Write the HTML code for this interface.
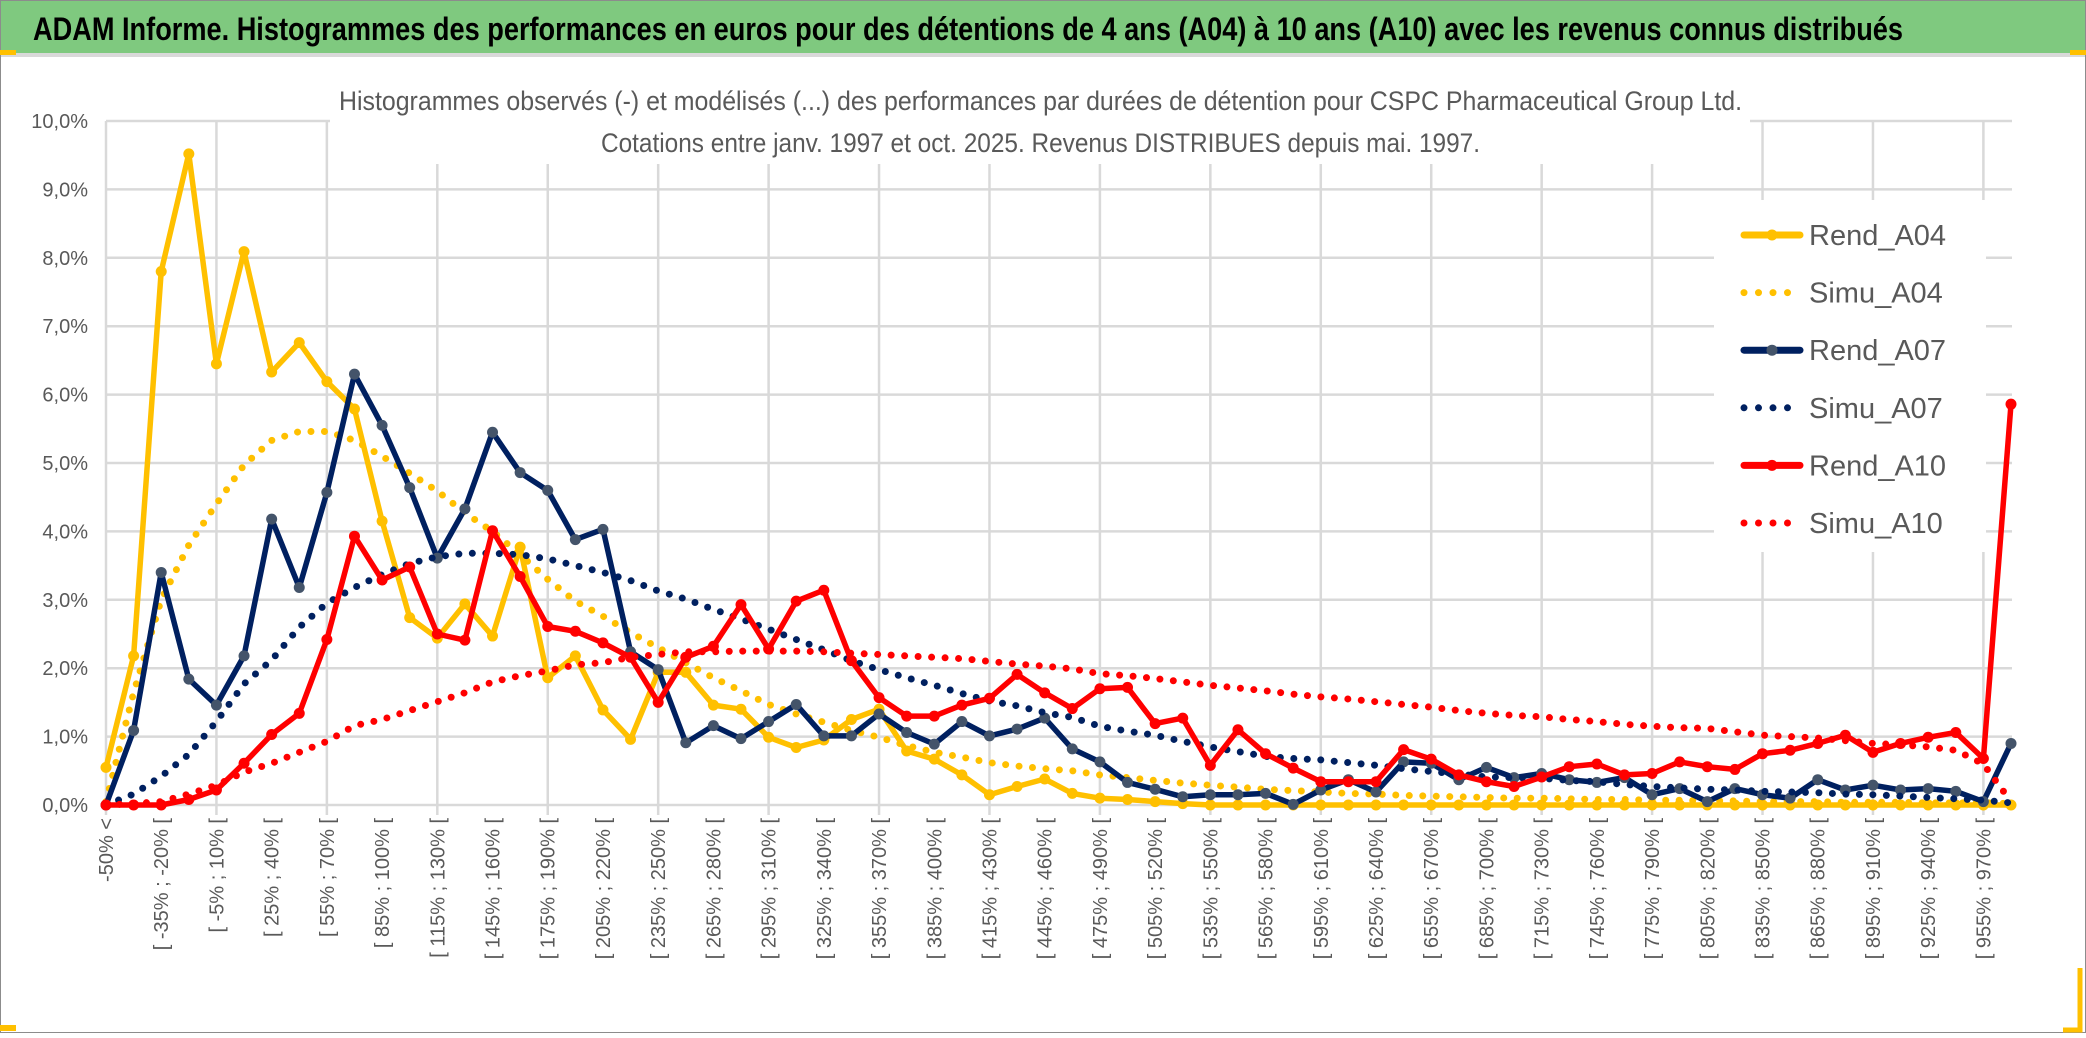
<!DOCTYPE html>
<html><head><meta charset="utf-8">
<style>
html,body{margin:0;padding:0;background:#fff;}
body{width:2086px;height:1033px;overflow:hidden;}
svg text{font-family:"Liberation Sans Narrow","Liberation Sans",sans-serif;}
</style></head>
<body>
<svg id="chart" width="2086" height="1033" viewBox="0 0 2086 1033" xmlns="http://www.w3.org/2000/svg">
  <rect x="0" y="0" width="2086" height="1033" fill="#fff"/>
  <rect x="0.5" y="0.5" width="2085" height="1032" fill="none" stroke="#8c8c8c" stroke-width="1"/>
  <rect x="1" y="1" width="2084" height="52" fill="#7fc97f"/>
  <rect x="1" y="53" width="2084" height="4" fill="#d9d9d9"/>
  <rect x="0" y="50" width="16" height="5" fill="#ffc000"/>
  <rect x="2070" y="50" width="16" height="5" fill="#ffc000"/>
  <text x="33" y="40" font-size="32" font-weight="bold" fill="#000" textLength="1870" lengthAdjust="spacingAndGlyphs">ADAM Informe. Histogrammes des performances en euros pour des détentions de 4 ans (A04) à 10 ans (A10) avec les revenus connus distribués</text>
  <g id="grid"></g>
  <rect x="330" y="85" width="1420" height="79" fill="#fff"/>
  <text x="339" y="110" font-size="27" fill="#595959" textLength="1403" lengthAdjust="spacingAndGlyphs">Histogrammes observés (-) et modélisés (...) des performances par durées de détention pour CSPC Pharmaceutical Group Ltd.</text>
  <text x="601" y="152" font-size="27" fill="#595959" textLength="879" lengthAdjust="spacingAndGlyphs">Cotations entre janv. 1997 et oct. 2025. Revenus DISTRIBUES depuis mai. 1997.</text>
  <g id="yaxis"></g>
  <g id="xaxis"></g>
  <g id="series"></g>
  <g id="legend"></g>
  <rect x="2066" y="968" width="16" height="62" fill="none"/>
  <path d="M2080 968 V1030 H2063" fill="none" stroke="#ffc000" stroke-width="5"/>
  <rect x="0" y="1025" width="16" height="6" fill="#ffc000"/>
</svg>
<script>
const rendA04 = [0.55,2.18,7.80,9.52,6.45,8.09,6.33,6.76,6.19,5.79,4.15,2.74,2.44,2.94,2.47,3.77,1.86,2.18,1.39,0.96,1.94,1.94,1.46,1.40,0.99,0.84,0.95,1.25,1.40,0.79,0.67,0.44,0.15,0.27,0.38,0.17,0.10,0.08,0.05,0.02,0,0,0,0,0,0,0,0,0,0,0,0,0,0,0,0,0,0,0,0,0,0,0,0,0,0,0,0,0,0];
const simuA04 = [0.05,1.64,3.0,3.8,4.4,4.97,5.33,5.46,5.46,5.33,5.10,4.85,4.59,4.27,4.00,3.66,3.30,2.98,2.76,2.52,2.30,2.08,1.86,1.67,1.47,1.33,1.21,1.09,0.99,0.87,0.77,0.70,0.62,0.57,0.53,0.50,0.44,0.40,0.36,0.32,0.29,0.26,0.23,0.21,0.19,0.17,0.16,0.14,0.13,0.12,0.11,0.10,0.10,0.09,0.08,0.08,0.07,0.07,0.06,0.06,0.05,0.05,0.05,0.04,0.04,0.04,0.03,0.03,0.03,0.02];
const rendA07 = [0,1.09,3.40,1.84,1.46,2.18,4.18,3.18,4.57,6.30,5.55,4.64,3.61,4.33,5.45,4.86,4.60,3.88,4.03,2.24,1.98,0.91,1.16,0.97,1.22,1.47,1.01,1.01,1.33,1.06,0.89,1.22,1.01,1.11,1.27,0.82,0.63,0.33,0.23,0.12,0.15,0.15,0.17,0.01,0.22,0.37,0.19,0.63,0.61,0.37,0.55,0.40,0.46,0.37,0.33,0.40,0.15,0.24,0.05,0.24,0.15,0.10,0.37,0.22,0.29,0.22,0.24,0.20,0.05,0.90];
const simuA07 = [0,0.16,0.42,0.74,1.22,1.77,2.12,2.60,2.95,3.18,3.37,3.53,3.63,3.68,3.68,3.66,3.60,3.50,3.40,3.28,3.13,3.01,2.86,2.72,2.57,2.42,2.27,2.11,1.98,1.86,1.75,1.63,1.52,1.45,1.35,1.28,1.15,1.08,1.02,0.93,0.85,0.78,0.71,0.68,0.66,0.62,0.58,0.53,0.49,0.45,0.41,0.40,0.39,0.36,0.34,0.30,0.27,0.25,0.23,0.22,0.20,0.19,0.18,0.16,0.15,0.13,0.11,0.09,0.07,0.03];
const rendA10 = [0,0,0,0.08,0.22,0.61,1.03,1.34,2.42,3.93,3.29,3.48,2.50,2.41,4.01,3.34,2.61,2.54,2.37,2.16,1.50,2.16,2.32,2.93,2.28,2.98,3.14,2.11,1.57,1.30,1.30,1.46,1.56,1.91,1.64,1.41,1.70,1.72,1.19,1.27,0.58,1.10,0.75,0.54,0.34,0.34,0.34,0.81,0.67,0.44,0.34,0.27,0.41,0.56,0.60,0.44,0.46,0.63,0.56,0.52,0.75,0.80,0.90,1.02,0.77,0.90,0.99,1.06,0.68,5.86];
const simuA10 = [0,0.02,0.05,0.16,0.29,0.48,0.61,0.77,0.93,1.16,1.25,1.38,1.51,1.64,1.80,1.89,1.96,2.05,2.08,2.16,2.20,2.24,2.24,2.25,2.25,2.25,2.24,2.22,2.20,2.18,2.16,2.14,2.10,2.06,2.03,1.99,1.92,1.89,1.85,1.80,1.75,1.71,1.67,1.62,1.58,1.55,1.51,1.47,1.43,1.38,1.34,1.31,1.29,1.25,1.22,1.18,1.15,1.13,1.12,1.07,1.02,1.00,0.98,0.94,0.90,0.88,0.85,0.80,0.60,0.05];
const yTicks = [0,1,2,3,4,5,6,7,8,9,10];
const yTickLabels = ["0,0%","1,0%","2,0%","3,0%","4,0%","5,0%","6,0%","7,0%","8,0%","9,0%","10,0%"];
const categories = (function(){
  const c = ["-50% <"];
  for (let lo = -50; lo < 970; lo += 15) c.push("[ " + lo + "% ; " + (lo + 15) + "% [");
  c.push(">= 970%");
  return c;
})();

const NS = "http://www.w3.org/2000/svg";
const X0 = 106, X1 = 2011, Y0 = 805, Y10 = 121;
const n = rendA04.length;
function xPos(i){ return X0 + (X1 - X0) * i / (n - 1); }
function yPos(v){ return Y0 - (Y0 - Y10) * v / 10; }
function mk(tag, attrs, parent){
  const e = document.createElementNS(NS, tag);
  for (const k in attrs) e.setAttribute(k, attrs[k]);
  parent.appendChild(e);
  return e;
}

const grid = document.getElementById('grid');
yTicks.forEach(function(t){
  const l = mk('line', {x1: X0, x2: 2012, y1: yPos(t), y2: yPos(t), stroke: '#d9d9d9', 'stroke-width': 2.5}, grid);
  
  
});
for (let i = 0; i < n; i += 4) {
  const l = mk('line', {x1: xPos(i), x2: xPos(i), y1: Y10, y2: Y0 + 10, stroke: '#d9d9d9', 'stroke-width': 2.5}, grid);
  
  
}

const yaxis = document.getElementById('yaxis');
yTicks.forEach(function(t, k){
  const tx = mk('text', {x: 88, y: yPos(t) + 7, 'font-size': 20, fill: '#595959', 'text-anchor': 'end'}, yaxis);
  tx.textContent = yTickLabels[k];
  
  
});

const xaxis = document.getElementById('xaxis');
for (let i = 0; i < n; i += 2) {
  const x = xPos(i) + 7;
  const tx = mk('text', {x: 0, y: 0, 'font-size': 20, fill: '#595959', 'text-anchor': 'end', transform: 'translate(' + x + ',818) rotate(-90)', 'font-family': '"Liberation Sans",sans-serif'}, xaxis);
  tx.textContent = categories[i];
  
  
}

const seriesG = document.getElementById('series');
function pts(arr){ return arr.map(function(v, i){ return xPos(i).toFixed(1) + ',' + yPos(v).toFixed(1); }).join(' '); }
function drawRend(arr, color, markerFill, name){
  const g = mk('g', {}, seriesG);
  
  
  mk('polyline', {points: pts(arr), fill: 'none', stroke: color, 'stroke-width': 5.5, 'stroke-linejoin': 'round'}, g);
  arr.forEach(function(v, i){
    const c = mk('circle', {cx: xPos(i), cy: yPos(v), r: 5.5, fill: markerFill}, g);
    
    
  });
}
function drawSimu(arr, color, name){
  const p = mk('polyline', {points: pts(arr), fill: 'none', stroke: color, 'stroke-width': 7, 'stroke-linecap': 'round', 'stroke-dasharray': '0 13.5'}, seriesG);
  
  
}
drawRend(rendA04, '#ffc000', '#ffc000', 'rend-a04-line');
drawSimu(simuA04, '#ffc000', 'simu-a04-line');
drawRend(rendA07, '#002060', '#44546a', 'rend-a07-line');
drawSimu(simuA07, '#002060', 'simu-a07-line');
drawRend(rendA10, '#ff0000', '#ff0000', 'rend-a10-line');
drawSimu(simuA10, '#ff0000', 'simu-a10-line');

const legend = document.getElementById('legend');
mk('rect', {x: 1714, y: 200, width: 272, height: 352, fill: '#fff'}, legend);
const legendNames = ["Rend_A04","Simu_A04","Rend_A07","Simu_A07","Rend_A10","Simu_A10"];
const legendColors = ["#ffc000","#ffc000","#002060","#002060","#ff0000","#ff0000"];
const legendMarker = ["#ffc000",null,"#44546a",null,"#ff0000",null];
legendNames.forEach(function(nm, k){
  const y = 235 + k * 57.6;
  const g = mk('g', {}, legend);
  
  
  if (legendMarker[k]) {
    mk('line', {x1: 1744, x2: 1800, y1: y, y2: y, stroke: legendColors[k], 'stroke-width': 7, 'stroke-linecap': 'round'}, g);
    mk('circle', {cx: 1772, cy: y, r: 5.5, fill: legendMarker[k]}, g);
  } else {
    mk('line', {x1: 1744, x2: 1792, y1: y, y2: y, stroke: legendColors[k], 'stroke-width': 7, 'stroke-linecap': 'round', 'stroke-dasharray': '0 14.5'}, g);
  }
  const t = mk('text', {x: 1809, y: y + 10, 'font-size': 29, fill: '#595959'}, g);
  t.textContent = nm;
});
</script>
</body></html>
